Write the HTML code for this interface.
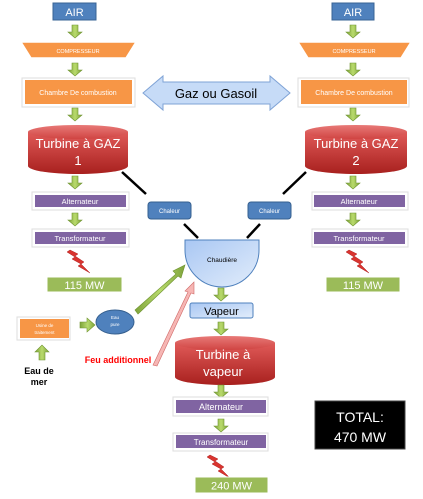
<!DOCTYPE html>
<html><head><meta charset="utf-8"><style>
body{margin:0;background:#fff;width:423px;height:499px;overflow:hidden}
svg{display:block}
text{font-family:"Liberation Sans",sans-serif}
</style></head><body>
<svg width="423" height="499" viewBox="0 0 423 499" xmlns="http://www.w3.org/2000/svg">
<defs>
<linearGradient id="red" x1="0" y1="0" x2="0" y2="1"><stop offset="0" stop-color="#e05a58"/><stop offset="1" stop-color="#a8201e"/></linearGradient>
<linearGradient id="redtop" x1="0" y1="0" x2="0" y2="1"><stop offset="0" stop-color="#e87a78"/><stop offset="1" stop-color="#d04442"/></linearGradient>
<linearGradient id="lb" x1="0" y1="0" x2="1" y2="1"><stop offset="0" stop-color="#a9c7f3"/><stop offset="1" stop-color="#e2edfb"/></linearGradient>
<linearGradient id="grn" x1="0" y1="0" x2="1" y2="0"><stop offset="0" stop-color="#7ea33a"/><stop offset=".5" stop-color="#b8da6c"/><stop offset="1" stop-color="#7ea33a"/></linearGradient>
<g id="dn"><path d="M-3,0 h6 v7 h4 l-7,6 l-7,-6 h4z" fill="url(#grn)" stroke="#6f9430" stroke-width=".6"/></g>
<g id="bolt"><path d="M0,0 l8,4 l-3,2 l9,6 l-3,2 l9,9 l-12,-7 l3,-2 l-9,-5 l3,-2 l-8,-5z" fill="#d9342f" stroke="#b02020" stroke-width=".5"/></g>
</defs>

<!-- LEFT column -->
<rect x="53" y="3" width="43" height="17" fill="#4f81bd" stroke="#3a6495"/>
<text x="74.5" y="16" fill="#fff" font-size="11" text-anchor="middle">AIR</text>
<use href="#dn" x="75" y="25"/>
<path d="M21,42 H136 L126,58 H31 Z" fill="#f79646" stroke="#fff" stroke-width="1.5"/>
<text x="78" y="53" fill="#fff" font-size="5.5" text-anchor="middle">COMPRESSEUR</text>
<use href="#dn" x="75" y="63"/>
<rect x="22" y="78" width="113" height="29" fill="#fff" stroke="#ddd"/>
<rect x="25" y="80" width="107" height="24" fill="#f79646"/>
<text x="78" y="95" fill="#fff" font-size="7" text-anchor="middle">Chambre De combustion</text>
<use href="#dn" x="75" y="108"/>
<path d="M28,132 V166 A50,8 0 0 0 128,166 V132" fill="url(#red)"/>
<ellipse cx="78" cy="132" rx="50" ry="7" fill="url(#redtop)"/>
<text x="78" y="148" fill="#fff" font-size="13" text-anchor="middle">Turbine à GAZ</text>
<text x="78" y="165" fill="#fff" font-size="13" text-anchor="middle">1</text>
<use href="#dn" x="75" y="176"/>
<rect x="32" y="192" width="97" height="18" fill="#fff" stroke="#ddd"/>
<rect x="35" y="195" width="91" height="12" fill="#8064a2"/>
<text x="80" y="204" fill="#fff" font-size="7.5" text-anchor="middle">Alternateur</text>
<use href="#dn" x="75" y="213"/>
<rect x="32" y="229" width="97" height="18" fill="#fff" stroke="#ddd"/>
<rect x="35" y="232" width="91" height="12" fill="#8064a2"/>
<text x="80" y="241" fill="#fff" font-size="7.5" text-anchor="middle">Transformateur</text>
<use href="#bolt" x="70" y="250"/>
<rect x="47" y="277" width="75" height="15" fill="#9bbb59" stroke="#fff"/>
<text x="84.5" y="289" fill="#fff" font-size="11" text-anchor="middle">115 MW</text>

<!-- RIGHT column -->
<rect x="332" y="3" width="42" height="17" fill="#4f81bd" stroke="#3a6495"/>
<text x="353" y="16" fill="#fff" font-size="11" text-anchor="middle">AIR</text>
<use href="#dn" x="353" y="25"/>
<path d="M298,42 H411 L401,58 H308 Z" fill="#f79646" stroke="#fff" stroke-width="1.5"/>
<text x="354" y="53" fill="#fff" font-size="5.5" text-anchor="middle">COMPRESSEUR</text>
<use href="#dn" x="353" y="63"/>
<rect x="298" y="78" width="111" height="29" fill="#fff" stroke="#ddd"/>
<rect x="301" y="80" width="106" height="24" fill="#f79646"/>
<text x="354" y="95" fill="#fff" font-size="7" text-anchor="middle">Chambre De combustion</text>
<use href="#dn" x="353" y="108"/>
<path d="M305,132 V166 A51,8 0 0 0 407,166 V132" fill="url(#red)"/>
<ellipse cx="356" cy="132" rx="51" ry="7" fill="url(#redtop)"/>
<text x="356" y="148" fill="#fff" font-size="13" text-anchor="middle">Turbine à GAZ</text>
<text x="356" y="165" fill="#fff" font-size="13" text-anchor="middle">2</text>
<use href="#dn" x="353" y="176"/>
<rect x="312" y="192" width="96" height="18" fill="#fff" stroke="#ddd"/>
<rect x="314" y="195" width="91" height="12" fill="#8064a2"/>
<text x="359" y="204" fill="#fff" font-size="7.5" text-anchor="middle">Alternateur</text>
<use href="#dn" x="353" y="213"/>
<rect x="312" y="229" width="96" height="18" fill="#fff" stroke="#ddd"/>
<rect x="314" y="232" width="91" height="12" fill="#8064a2"/>
<text x="359" y="241" fill="#fff" font-size="7.5" text-anchor="middle">Transformateur</text>
<use href="#bolt" x="349" y="250"/>
<rect x="326" y="277" width="74" height="15" fill="#9bbb59" stroke="#fff"/>
<text x="363" y="289" fill="#fff" font-size="11" text-anchor="middle">115 MW</text>

<!-- Gaz ou Gasoil -->
<path d="M143,93 L163,76 V82 H270 V76 L290,93 L270,110 V104 H163 V110 Z" fill="#c6dbf7" stroke="#7fa3d6"/>
<text x="216" y="98" fill="#000" font-size="13" text-anchor="middle">Gaz ou Gasoil</text>

<!-- Chaleur -->
<line x1="122" y1="172" x2="146" y2="194" stroke="#000" stroke-width="2.5"/>
<line x1="306" y1="172" x2="283" y2="194" stroke="#000" stroke-width="2.5"/>
<rect x="148" y="202" width="43" height="17" rx="3" fill="#4f81bd" stroke="#36608f"/>
<text x="169.5" y="213" fill="#fff" font-size="6" text-anchor="middle">Chaleur</text>
<rect x="248" y="202" width="43" height="17" rx="3" fill="#4f81bd" stroke="#36608f"/>
<text x="269.5" y="213" fill="#fff" font-size="6" text-anchor="middle">Chaleur</text>
<line x1="184" y1="224" x2="198" y2="238" stroke="#000" stroke-width="2.5"/>
<line x1="260" y1="224" x2="247" y2="238" stroke="#000" stroke-width="2.5"/>

<!-- Chaudière -->
<path d="M185,240 H259 V250 A37,37 0 0 1 185,250 Z" fill="url(#lb)" stroke="#4f81bd"/>
<text x="222" y="262" fill="#000" font-size="6.5" text-anchor="middle">Chaudière</text>
<use href="#dn" x="221" y="288"/>
<rect x="190" y="303" width="63" height="15" rx="2" fill="url(#lb)" stroke="#4f81bd"/>
<text x="221.5" y="315" fill="#000" font-size="11" text-anchor="middle">Vapeur</text>
<use href="#dn" x="221" y="322"/>
<path d="M175,343 V377 A50,8 0 0 0 275,377 V343" fill="url(#red)"/>
<ellipse cx="225" cy="343" rx="50" ry="7" fill="url(#redtop)"/>
<text x="223" y="359" fill="#fff" font-size="13" text-anchor="middle">Turbine à</text>
<text x="223" y="376" fill="#fff" font-size="13" text-anchor="middle">vapeur</text>
<use href="#dn" x="221" y="385"/>
<rect x="173" y="397" width="95" height="19" fill="#fff" stroke="#ddd"/>
<rect x="176" y="400" width="90" height="13" fill="#8064a2"/>
<text x="221" y="410" fill="#fff" font-size="9" text-anchor="middle">Alternateur</text>
<use href="#dn" x="221" y="419"/>
<rect x="173" y="433" width="95" height="18" fill="#fff" stroke="#ddd"/>
<rect x="176" y="435" width="90" height="13" fill="#8064a2"/>
<text x="221" y="445" fill="#fff" font-size="8" text-anchor="middle">Transformateur</text>
<use href="#bolt" x="210" y="455"/>
<rect x="195" y="477" width="73" height="16" fill="#9bbb59" stroke="#fff"/>
<text x="231.5" y="489.5" fill="#fff" font-size="11" text-anchor="middle">240 MW</text>

<!-- TOTAL -->
<rect x="315" y="401" width="90" height="48" fill="#000" stroke="#444"/>
<text x="360" y="422" fill="#fff" font-size="14" text-anchor="middle">TOTAL:</text>
<text x="360" y="442" fill="#fff" font-size="14" text-anchor="middle">470 MW</text>

<!-- Water treatment -->
<rect x="17" y="317" width="53" height="23" fill="#fff" stroke="#ddd"/>
<rect x="20" y="319" width="49" height="19" fill="#f79646"/>
<text x="44.5" y="327" fill="#fff" font-size="4.5" text-anchor="middle">Usine de</text>
<text x="44.5" y="334" fill="#fff" font-size="4.5" text-anchor="middle">traitement</text>
<path d="M80,322 h7 v-4 l8,7 l-8,7 v-4 h-7z" fill="url(#grn)" stroke="#6f9430" stroke-width=".6"/>
<ellipse cx="115" cy="322" rx="19" ry="12" fill="#4f81bd" stroke="#36608f"/>
<text x="115" y="319" fill="#fff" font-size="4.5" text-anchor="middle">Eau</text>
<text x="115" y="326" fill="#fff" font-size="4.5" text-anchor="middle">pure</text>
<path d="M39,360 v-8 h-4 l7,-7 l7,7 h-4 v8z" fill="url(#grn)" stroke="#6f9430" stroke-width=".6"/>
<text x="39" y="374" fill="#000" font-size="9" font-weight="bold" text-anchor="middle">Eau de</text>
<text x="39" y="385" fill="#000" font-size="9" font-weight="bold" text-anchor="middle">mer</text>
<path d="M135,310 L176,274 L173,271 L185,265 L181,278 L178,276 L138,314 Z" fill="url(#grn)" stroke="#6f9430" stroke-width=".6"/>
<path d="M153,365 L188,292 L185,291 L194,282 L194,294 L191,293 L157,366 Z" fill="#f6b6b4" stroke="#d06a68" stroke-width=".6"/>
<text x="118" y="363" fill="#f00" font-size="9" font-weight="bold" text-anchor="middle">Feu additionnel</text>
</svg>
</body></html>
